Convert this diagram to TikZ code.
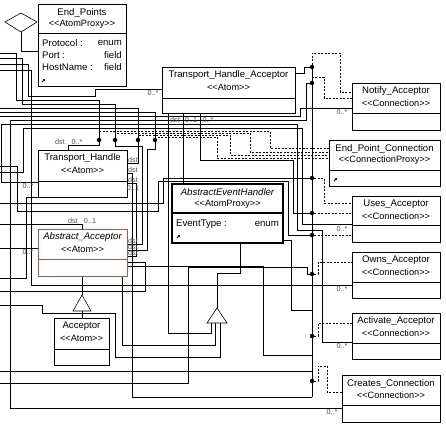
\documentclass[tikz,border=0pt]{standalone}
\usepackage{fontspec}
\setmainfont{Liberation Sans}
\usetikzlibrary{arrows.meta}
\pgfdeclarelayer{bg}
\pgfsetlayers{bg,main}
\definecolor{aared}{RGB}{185,80,80}
\definecolor{lblgray}{RGB}{80,80,80}
\newcommand\st[1]{<\kern0pt<#1>\kern0pt>}
\tikzset{
 ubox/.style={draw, fill=white, line width=0.6pt, inner sep=0pt, outer sep=0pt},
 ttl/.style={font=\fontsize{9.6}{11}\selectfont, inner sep=0pt},
 ster/.style={font=\fontsize{9.2}{11}\selectfont, inner sep=0pt},
 lbl/.style={font=\fontsize{7.2}{8}\selectfont, text=lblgray, inner sep=0pt},
 cn/.style={line width=0.6pt},
 dsh/.style={line width=0.6pt, dash pattern=on 2pt off 1.5pt},
 jdot/.style={circle, fill=black, inner sep=0pt, minimum size=4.5pt},
 icon/.style={line width=0.9pt, -{Triangle[length=2.2pt,width=2.4pt]}},
 gen/.style={draw, fill=white, line width=0.6pt},
}
\newcommand\umlbox[9]{%
 \node[ubox,#9,minimum width={(#4-#2)*1pt},minimum height={(#5-#3)*1pt}] (#1) at ({(#2+#4)/2},{(#3+#5)/2}) {};
 \draw[line width=0.6pt,#9] (#2,#6) -- (#4,#6);
 \node[ttl] at ({(#2+#4)/2},{#3+8.5}) {#7};
 \node[ster] at ({(#2+#4)/2},{#3+20}) {#8};
}
\begin{document}
\begin{tikzpicture}[x=1pt,y=-1pt]
\useasboundingbox (0,0) rectangle (446,425);
\begin{pgfonlayer}{bg}
\fill[white] (0,0) rectangle (446,425);
\end{pgfonlayer}
% ---------------- boxes ----------------
\umlbox{ep}{38}{4}{126}{86}{33}{End\_Points}{\st{AtomProxy}}{}
\node[ttl,anchor=west] at (42,43) {Protocol :};
\node[ttl,anchor=east] at (122,43) {enum};
\node[ttl,anchor=west] at (42,55) {Port :};
\node[ttl,anchor=east] at (122,55) {field};
\node[ttl,anchor=west] at (42,67) {HostName :};
\node[ttl,anchor=east] at (122,67) {field};
\draw[icon] (42,82) -- (45,79);
\umlbox{tha}{162}{67}{295}{113}{98}{Transport\_Handle\_Acceptor}{\st{Atom}}{}
\umlbox{na}{352}{83}{440}{130}{113}{Notify\_Acceptor}{\st{Connection}}{}
\umlbox{epc}{329}{140}{440}{186}{170}{End\_Point\_Connection}{\st{ConnectionProxy}}{}
\draw[icon] (334,181) -- (337,178);
\umlbox{ua}{352}{196}{440}{242}{225}{Uses\_Acceptor}{\st{Connection}}{}
\umlbox{oa}{352}{252}{440}{298}{282}{Owns\_Acceptor}{\st{Connection}}{}
\umlbox{aca}{352}{313}{440}{359}{343}{Activate\_Acceptor}{\st{Connection}}{}
\umlbox{cc}{342}{375}{440}{422}{405}{Creates\_Connection}{\st{Connection}}{}
\umlbox{th}{38}{150}{127}{197}{181}{Transport\_Handle}{\st{Atom}}{}
\umlbox{aa}{38}{229}{127}{276}{259}{\itshape Abstract\_Acceptor}{\st{Atom}}{draw=aared}
\umlbox{aeh}{172}{184}{283}{243}{213}{\itshape AbstractEventHandler}{\st{AtomProxy}}{line width=1.6pt}
\node[ttl,anchor=west] at (176,224) {EventType :};
\node[ttl,anchor=east] at (279,224) {enum};
\draw[icon] (177,238) -- (180,235);
\foreach \p in {(172,184),(227.5,184),(283,184),(172,213),(283,213),(172,243),(227.5,243),(283,243)}
  \fill \p ++(-1.2,-1.2) rectangle ++(2.4,2.4);
\umlbox{acc}{54}{318}{109}{365}{349}{Acceptor}{\st{Atom}}{}
% containment diamond and inheritance triangles
\draw[gen] (5,22) -- (21,13) -- (37,22) -- (21,32) -- cycle;
\draw[gen] (82,295) -- (91,311) -- (73,311) -- cycle;
\draw[gen] (217,308) -- (227,323) -- (207,323) -- cycle;
% ---------------- junction dots ----------------
\node[jdot] (j1) at (312,67) {};
\node[jdot] (j2) at (312,83) {};
\node[jdot] (j3) at (312,178) {};
\node[jdot] (j4) at (312,213) {};
\node[jdot] (j5) at (312,235) {};
\node[jdot] (j6) at (312,274) {};
\node[jdot] (j7) at (312,336) {};
\node[jdot] (j8) at (312,381) {};
\node[jdot] (d1) at (99,140) {};
\node[jdot] (d2) at (115,140) {};
\node[jdot] (d3) at (138,140) {};
\node[jdot] (d4) at (155,140) {};
% ---------------- labels ----------------
\node[lbl] at (153,93) {0..*};
\node[lbl] at (60,142) {dst};
\node[lbl] at (77,142) {0..*};
\node[lbl] at (133,160) {dst};
\node[lbl] at (133,170) {dst};
\node[lbl] at (133,180) {dst};
\node[lbl] at (133,188) {0..1};
\node[lbl] at (28,186) {0..*};
\node[lbl] at (28,252) {0..*};
\node[lbl] at (73,221) {dst};
\node[lbl] at (90,221) {0..1};
\node[lbl] at (133,241) {dst};
\node[lbl] at (133,247) {dst};
\node[lbl] at (133,253) {dst};
\node[lbl] at (175,120) {dst};
\node[lbl] at (191,120) {0..1};
\node[lbl] at (208,120) {0..*};
\node[lbl] at (342,112) {0..*};
\node[lbl] at (342,229) {0..*};
\node[lbl] at (342,289) {0..*};
\node[lbl] at (342,346) {0..*};
\node[lbl] at (332,412) {0..*};
% ---------------- connectors ----------------
\begin{pgfonlayer}{bg}
\draw[cn] (21,32) -- (21,51) -- (ep.west |- 0,51);
\draw[cn] (0,53) -- (16,53) -- (16,100) -- (99,100) -- (d1);
\draw[cn] (d1) -- (99,145) -- (68,145) -- (68,150);
\draw[cn] (j2) -- (306,83) -- (306,120) -- (10,120) -- (10,408) -- (cc.west |- 0,408);
\draw[cn] (0,64) -- (28,64) -- (28,96) -- (95,96) -- (95,89) -- (tha.west |- 0,89);
\draw[cn] (0,58) -- (22,58) -- (22,104) -- (115,104) -- (d2);
\draw[cn] (d2) -- (115,146) -- (142,146) -- (142,244) -- (127,244);
\draw[cn] (0,108) -- (138,108) -- (d3);
\draw[cn] (d3) -- (138,163) -- (127,163);
\draw[cn] (0,112) -- (155,112) -- (d4);
\draw[cn] (d4) -- (155,149) -- (147,149) -- (147,250) -- (127,250);
\draw[cn] (0,116) -- (300,116) -- (300,108) -- (na.west |- 0,108);
\draw[cn] (tha.east |- 0,73) -- (304,73) -- (304,67) -- (j1);
\draw[cn] (th.west |- 0,182) -- (1,182) -- (1,124) -- (297,124) -- (297,230) -- (322,230) -- (322,342) -- (aca.west |- 0,342);
\draw[cn] (0,70) -- (31,70) -- (31,285) -- (oa.west |- 0,285);
\draw[cn] (ua.west |- 0,224) -- (302,224) -- (302,128) -- (23,128) -- (23,172) -- (0,172);
\draw[cn] (0,248) -- (aa.west |- 0,248);
\draw[cn] (0,224) -- (82,224) -- (82,229);
\draw[cn] (127,173) -- (132,173) -- (132,397) -- (312,397);
\draw[cn] (127,183) -- (136,183) -- (136,256) -- (127,256);
\draw[cn] (0,166) -- (17,166) -- (17,211) -- (158,211) -- (158,181) -- (288,181) -- (288,235) -- (j5);
\draw[cn] (0,203) -- (163,203) -- (163,178) -- (j3);
\draw[cn] (0,278) -- (26,278) -- (26,197) -- (38,197);
\draw[cn] (0,291) -- (145,291) -- (145,262) -- (127,262);
\draw[cn] (122,276) -- (122,345) -- (215,345) -- (215,323);
\draw[cn] (0,305) -- (42,305) -- (42,313) -- (115,313) -- (115,357) -- (220,357) -- (220,323);
\draw[cn] (168,113) -- (168,333) -- (211,333) -- (211,323);
\draw[cn] (217,308) -- (217,273) -- (240,273) -- (240,243);
\draw[cn] (82,276) -- (82,295);
\draw[cn] (82,311) -- (acc.north -| 82,0);
\draw[cn] (0,383) -- (188,383) -- (188,267) -- (307,267) -- (307,274) -- (j6);
\draw[cn] (0,371) -- (312,371);
\draw[cn] (183,113) -- (183,184);
\draw[cn] (200,113) -- (200,160) -- (293,160) -- (293,213) -- (j4);
\draw[cn] (283,240) -- (291,240) -- (291,310) -- (312,310);
\draw[cn] (j1) -- (312,397);
\draw[cn] (127,266) -- (263,266) -- (263,355) -- (312,355);
% dashed links to connection classes
\draw[dsh] (j1) -- (312,53) -- (340,53) -- (340,92) -- (na.west |- 0,92);
\draw[dsh] (j2) -- (312,77) -- (324,77) -- (324,98) -- (na.west |- 0,98);
\draw[dsh] (d1) -- (99,131) -- (270,131) -- (270,148) -- (epc.west |- 0,148);
\draw[dsh] (d2) -- (115,133) -- (250,133) -- (250,152) -- (epc.west |- 0,152);
\draw[dsh] (d3) -- (138,135) -- (230,135) -- (230,155) -- (epc.west |- 0,155);
\draw[dsh] (d4) -- (155,137) -- (217,137) -- (217,158) -- (epc.west |- 0,158);
\draw[dsh] (j3) -- (324,178) -- (324,203) -- (ua.west |- 0,203);
\draw[dsh] (j4) -- (ua.west |- 0,213);
\draw[dsh] (j5) -- (ua.west |- 0,235);
\draw[dsh] (j6) -- (318,274) -- (318,262) -- (oa.west |- 0,262);
\draw[dsh] (j7) -- (318,336) -- (318,323) -- (aca.west |- 0,323);
\draw[dsh] (j8) -- (318,381) -- (318,366) -- (327,366) -- (327,392) -- (cc.west |- 0,392);
\end{pgfonlayer}
\end{tikzpicture}
\end{document}
